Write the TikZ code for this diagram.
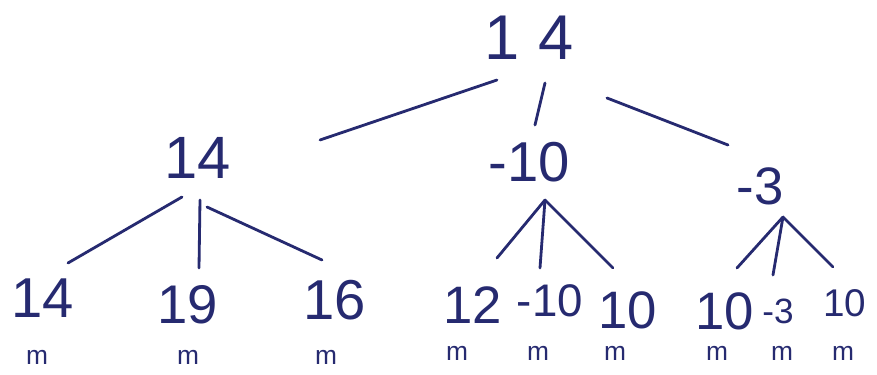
\documentclass[tikz,border=0pt]{standalone}
\usepackage{fontspec}
\setmainfont{Liberation Sans}
\definecolor{ink}{RGB}{38,42,112}

\begin{document}
\begin{tikzpicture}[x=0.02cm, y=-0.02cm,
  every node/.style={text=ink, inner sep=0pt},
  num/.style={font=\fontsize{#1}{#1}\selectfont}, num/.default=32,
  mmark/.style={font=\fontsize{15}{15}\selectfont},
  branch/.style={draw=ink, line width=1.6pt, line cap=round}]
\useasboundingbox (0,0) rectangle (877,375);

% Root
\node[num=36] (root) at (529,38) {1\hspace{0.3em}4};

% Second level
\node[num=34] (a) at (198,158) {14};
\node[num] (b) at (529,162) {-10};
\node[num=30] (c) at (760,186) {-3};

% Leaves under a
\node[num] (a1) at (43,298) {14};
\node[num=31] (a2) at (188,305) {19};
\node[num] (a3) at (335,300) {16};

% Leaves under b
\node[num=30] (b1) at (473,305) {12};
\node[num=26] (b2) at (550,301) {-10};
\node[num=30] (b3) at (628,310) {10};

% Leaves under c
\node[num=30] (c1) at (725,311) {10};
\node[num=20] (c2) at (778,311) {-3};
\node[num=22] (c3) at (845,303) {10};

% Marks under the leaves
\foreach \n/\x/\y in {a1/37/357, a2/188/357, a3/326/357,
                      b1/457/353, b2/538/353, b3/615/353,
                      c1/717/353, c2/782/353, c3/843/353}
  \node[mmark] (m-\n) at (\x,\y) {m};

% Branch ends
\coordinate (rootL) at (497,80);  \coordinate (aTop) at (320,140);
\coordinate (rootM) at (545,83);  \coordinate (bTop) at (535,125);
\coordinate (rootR) at (607,98);  \coordinate (cTop) at (728,145);

\coordinate (aL) at (182,197);    \coordinate (a1Top) at (68,263);
\coordinate (aM) at (200,200);    \coordinate (a2Top) at (199,268);
\coordinate (aR) at (207,207);    \coordinate (a3Top) at (322,260);

\coordinate (bFork) at (545,200);
\coordinate (b1Top) at (497,258);
\coordinate (b2Top) at (540,268);
\coordinate (b3Top) at (613,268);

\coordinate (cFork) at (783,217);
\coordinate (c1Top) at (737,268);
\coordinate (c2Top) at (773,275);
\coordinate (c3Top) at (833,267);

% Branches
\foreach \s/\t in {rootL/aTop, rootM/bTop, rootR/cTop,
                   aL/a1Top, aM/a2Top, aR/a3Top,
                   bFork/b1Top, bFork/b2Top, bFork/b3Top,
                   cFork/c1Top, cFork/c2Top, cFork/c3Top}
  \draw[branch] (\s) -- (\t);

\end{tikzpicture}
\end{document}
